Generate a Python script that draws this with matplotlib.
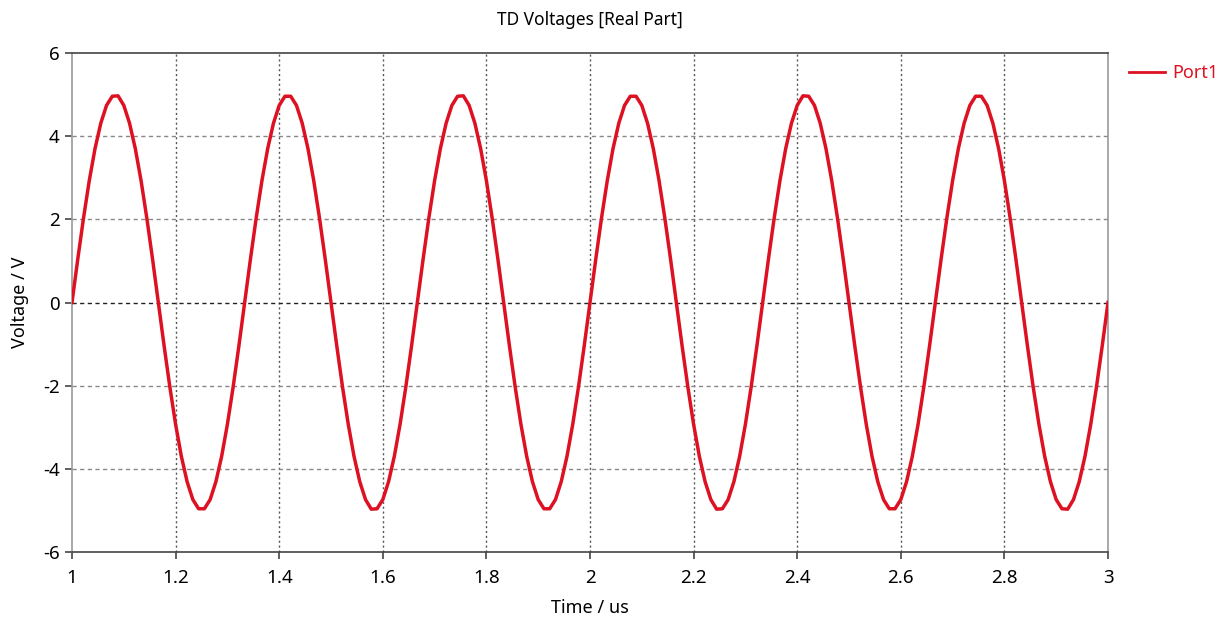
import numpy as np
import matplotlib
matplotlib.use("Agg")
import matplotlib.pyplot as plt

plt.rcParams['font.family'] = ['Noto Sans', 'DejaVu Sans']
plt.rcParams['axes.unicode_minus'] = False

# 時間軸 (us)，1 ~ 3 us 取樣
time_us = np.linspace(1.0, 3.0, 181)

# Port1 電壓 (V)
voltage_port1 = [
    0.00, 1.04, 2.03, 2.93, 3.70, 4.31, 4.74, 4.96, 4.97, 4.74, 4.31, 3.70, 2.93, 2.03, 1.04,
    0.00, -1.04, -2.03, -2.93, -3.70, -4.31, -4.74, -4.96, -4.96, -4.74, -4.31, -3.70, -2.93, -2.03, -1.04,
    0.00, 1.04, 2.03, 2.93, 3.70, 4.31, 4.74, 4.96, 4.96, 4.74, 4.31, 3.70, 2.93, 2.03, 1.04,
    0.00, -1.04, -2.03, -2.93, -3.70, -4.31, -4.74, -4.97, -4.96, -4.74, -4.31, -3.70, -2.93, -2.03, -1.04,
    0.00, 1.04, 2.03, 2.93, 3.70, 4.31, 4.74, 4.96, 4.97, 4.74, 4.31, 3.70, 2.93, 2.03, 1.04,
    0.00, -1.04, -2.03, -2.93, -3.70, -4.31, -4.74, -4.96, -4.96, -4.74, -4.31, -3.70, -2.93, -2.03, -1.04,
    0.00, 1.04, 2.03, 2.93, 3.70, 4.31, 4.74, 4.96, 4.96, 4.74, 4.31, 3.70, 2.93, 2.03, 1.04,
    0.00, -1.04, -2.03, -2.93, -3.70, -4.31, -4.74, -4.97, -4.96, -4.74, -4.31, -3.70, -2.93, -2.03, -1.04,
    0.00, 1.04, 2.03, 2.93, 3.70, 4.31, 4.74, 4.97, 4.96, 4.74, 4.31, 3.70, 2.93, 2.03, 1.04,
    0.00, -1.04, -2.03, -2.93, -3.70, -4.31, -4.74, -4.96, -4.96, -4.74, -4.31, -3.70, -2.93, -2.03, -1.04,
    0.00, 1.04, 2.03, 2.93, 3.70, 4.31, 4.74, 4.96, 4.96, 4.74, 4.31, 3.70, 2.93, 2.03, 1.04,
    0.00, -1.04, -2.03, -2.93, -3.70, -4.31, -4.74, -4.96, -4.97, -4.74, -4.31, -3.70, -2.93, -2.03, -1.04,
    0.00,
]

x_ticks = [1, 1.2, 1.4, 1.6, 1.8, 2, 2.2, 2.4, 2.6, 2.8, 3]
x_labels = ['1', '1.2', '1.4', '1.6', '1.8', '2', '2.2', '2.4', '2.6', '2.8', '3']
y_ticks = [-6, -4, -2, 0, 2, 4, 6]

fig = plt.figure(figsize=(12.24, 6.17), dpi=100)
ax = fig.add_axes([72 / 1224, 1 - 552 / 617, (1108 - 72) / 1224, (552 - 53) / 617])

ax.set_xlim(1, 3)
ax.set_ylim(-6, 6)
ax.set_xticks(x_ticks)
ax.set_xticklabels(x_labels)
ax.set_yticks(y_ticks)

# 網格
for x in x_ticks[1:-1]:
    ax.axvline(x, color='#555555', lw=1.0, ls=(0, (1.5, 2)), zorder=1)
for y in y_ticks[1:-1]:
    c = '#222222' if y == 0 else '#888888'
    ax.axhline(y, color=c, lw=1.0, ls=(0, (3, 2.5)), zorder=1)

ax.plot(time_us, voltage_port1, color='#dd1122', lw=2.5, label='Port1', zorder=3)

ax.spines['top'].set_color('#444444')
ax.spines['bottom'].set_color('#444444')
ax.spines['left'].set_color('#999999')
ax.spines['right'].set_color('#999999')
for s in ax.spines.values():
    s.set_linewidth(1.2)

ax.tick_params(axis='both', direction='out', length=5, width=1.2, color='#444444',
               labelsize=13.5, pad=4)
ax.tick_params(axis='x', pad=7)

ax.set_title('TD Voltages [Real Part]', fontsize=12.5, pad=20)
ax.set_xlabel('Time / us', fontsize=13, labelpad=9)
ax.set_ylabel('Voltage / V', fontsize=13, labelpad=10)

leg = ax.legend(loc='upper left', bbox_to_anchor=(1.01, 1.0), frameon=False,
                fontsize=13, handlelength=2.0, handletextpad=0.4, borderaxespad=0.2)
for t in leg.get_texts():
    t.set_color('#dd1122')
for h in leg.get_lines():
    h.set_linewidth(2.0)

fig.savefig('out.png', dpi=100)
